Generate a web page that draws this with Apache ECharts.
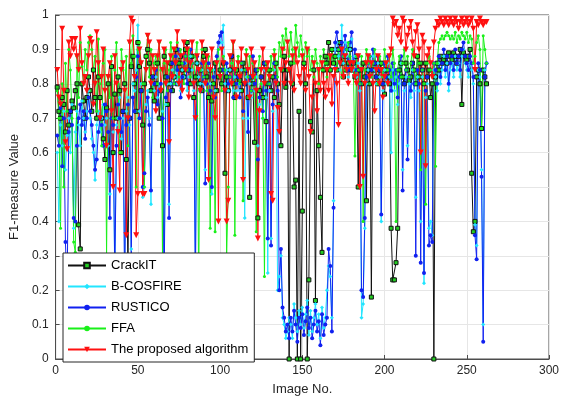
<!DOCTYPE html>
<html>
<head>
<meta charset="utf-8">
<script src="https://cdn.jsdelivr.net/npm/echarts@6/dist/echarts.min.js"></script>
<style>
  html, body { margin: 0; padding: 0; background: #fff; }
  #chart { width: 564px; height: 401px; }
</style>
</head>
<body>
<div id="chart"></div>
<script>
// F1-measure per image
const seriesNames = ['CrackIT', 'B-COSFIRE', 'RUSTICO', 'FFA', 'The proposed algorithm']

const crackit = [
  .79,.72,.70,.76,.74,.66,.78,.68,.72,.75, .73,.78,.80,.39,.32,.80,.75,.70,.76,.82,
  .78,.72,.84,.76,.70,.82,.76,.70,.64,.58, .73,.80,.55,.85,.60,.77,.70,.82,.78,.60,
  .72,.80,.58,.28,.70,.85,.88,.80,.72,.92, .85,.78,.68,.80,.88,.90,.86,.78,.82,.75,
  .80,.86,.70,.78,.62,.88,.82,.74,.80,.86, .78,.82,.90,.80,.86,.88,.84,.82,.90,.92,
  .84,.80,.88,.76,.82,.86,.80,.84,.78,.88, .90,.82,.76,.84,.75,.80,.86,.78,.82,.84,
  .80,.86,.54,.82,.78,.84,.88,.80,.76,.84, .82,.81,.78,.86,.80,.84,.76,.47,.82,.80,
  .63,.84,.41,.78,.82,.76,.86,.69,.80,.84, .78,.82,.76,.86,.80,.74,.62,.84,.88,.79,
  .84,.00,.86,.80,.50,.52,.00,.72,.00,.43, .86,.80,.00,.23,.69,.66,.84,.17,.78,.62,
  .47,.31,.84,.88,.86,.92,.84,.90,.86,.88, .84,.90,.92,.86,.82,.88,.84,.86,.90,.84,
  .86,.82,.88,.50,.84,.80,.86,.82,.46,.84, .80,.18,.84,.86,.82,.80,.84,.86,.80,.77,
  .84,.82,.80,.38,.23,.23,.28,.38,.84,.86, .82,.80,.86,.84,.81,.82,.86,.84,.80,.88,
  .82,.86,.84,.80,.86,.82,.84,.76,.80,.00, .82,.86,.84,.88,.86,.87,.88,.86,.89,.88,
  .87,.89,.88,.86,.88,.90,.74,.89,.88,.87, .88,.90,.54,.37,.40,.82,.84,.80,.67,.84,.82,.80
]

const bcosfire = [
  .60,.40,.68,.62,.72,.55,.65,.70,.60,.74, .38,.66,.72,.68,.62,.75,.70,.66,.72,.78,
  .70,.64,.60,.52,.68,.72,.66,.70,.74,.68, .70,.62,.48,.72,.66,.22,.68,.70,.76,.64,
  .70,.25,.72,.76,.68,.32,.80,.78,.84,.97, .72,.80,.47,.50,.74,.78,.70,.45,.80,.78,
  .82,.76,.80,.78,.72,.25,.74,.80,.45,.80, .84,.82,.86,.80,.88,.78,.84,.82,.86,.78,
  .82,.88,.84,.78,.25,.86,.82,.80,.84,.80, .55,.78,.84,.80,.48,.84,.78,.86,.90,.92,
  .92,.97,.80,.84,.78,.84,.86,.78,.82,.78, .80,.78,.84,.70,.41,.82,.70,.80,.76,.86,
  .78,.82,.62,.74,.80,.70,.84,.76,.25,.78, .35,.72,.84,.80,.20,.24,.30,.12,.10,.06,
  .08,.12,.10,.06,.16,.12,.08,.14,.10,.15, .09,.13,.17,.07,.14,.08,.12,.16,.10,.13,
  .06,.15,.09,.12,.20,.27,.24,.12,.46,.90, .92,.88,.84,.97,.86,.92,.88,.82,.90,.93,
  .84,.88,.82,.86,.78,.12,.16,.38,.80,.84, .86,.82,.88,.84,.80,.86,.82,.40,.78,.84,
  .80,.86,.82,.60,.84,.78,.82,.74,.80,.86, .55,.78,.82,.62,.80,.76,.84,.78,.47,.82,
  .78,.40,.82,.22,.76,.80,.38,.40,.36,.84, .82,.78,.86,.80,.84,.88,.82,.86,.78,.84,
  .86,.82,.88,.84,.86,.82,.88,.90,.86,.84, .82,.86,.84,.80,.39,.33,.84,.82,.55,.10,.84,.86
]

const rustico = [
  .65,.62,.73,.56,.70,.34,.20,.66,.72,.68, .41,.40,.62,.70,.74,.68,.72,.64,.70,.76,
  .72,.68,.62,.55,.58,.66,.70,.68,.62,.74, .72,.66,.41,.70,.68,.25,.62,.74,.70,.66,
  .72,.20,.68,.74,.70,.30,.76,.72,.82,.88, .70,.78,.50,.54,.72,.76,.68,.49,.82,.80,
  .84,.74,.78,.80,.70,.20,.76,.82,.41,.78, .86,.80,.88,.84,.90,.76,.82,.86,.88,.80,
  .84,.90,.86,.80,.20,.88,.84,.78,.86,.82, .51,.80,.86,.78,.50,.82,.76,.88,.92,.94,
  .95,.84,.78,.86,.80,.82,.88,.76,.84,.80, .82,.76,.86,.72,.80,.84,.66,.82,.78,.88,
  .80,.84,.58,.76,.82,.72,.86,.78,.35,.80, .33,.74,.86,.82,.78,.20,.32,.15,.12,.08,
  .10,.06,.12,.08,.14,.10,.05,.12,.09,.13, .07,.11,.15,.09,.12,.06,.10,.14,.08,.11,
  .04,.13,.07,.10,.12,.32,.27,.08,.44,.92, .95,.90,.86,.92,.88,.94,.90,.84,.92,.95,
  .86,.90,.84,.88,.80,.20,.18,.41,.82,.86, .88,.84,.90,.86,.82,.88,.84,.42,.80,.86,
  .82,.88,.84,.78,.86,.80,.84,.76,.82,.88, .49,.80,.84,.58,.82,.78,.86,.80,.30,.84,
  .80,.28,.84,.25,.78,.82,.33,.36,.34,.86, .84,.80,.88,.82,.86,.90,.84,.88,.80,.86,
  .88,.84,.90,.86,.88,.84,.90,.92,.88,.86, .84,.88,.86,.82,.36,.29,.86,.84,.53,.05,.82,.86
]

const ffa = [
  .78,.70,.38,.80,.50,.86,.72,.90,.84,.70, .34,.31,.88,.76,.92,.85,.80,.90,.84,.92,
  .94,.90,.84,.88,.72,.93,.80,.62,.86,.90, .30,.82,.76,.88,.70,.84,.92,.80,.60,.90,
  .84,.78,.88,.62,.92,.86,.94,.88,.50,.90, .92,.86,.80,.50,.88,.94,.82,.90,.76,.86,
  .88,.80,.92,.84,.30,.86,.90,.78,.84,.92, .88,.80,.86,.92,.82,.90,.86,.80,.88,.84,
  .90,.82,.86,.80,.88,.92,.20,.84,.90,.82, .86,.78,.88,.38,.84,.80,.37,.86,.90,.82,
  .78,.88,.84,.30,.50,.82,.86,.92,.36,.84, .88,.80,.86,.46,.84,.90,.82,.88,.78,.86,
  .82,.37,.84,.88,.80,.70,.24,.86,.84,.80, .88,.84,.90,.86,.82,.92,.88,.94,.90,.96,
  .92,.88,.95,.90,.86,.97,.92,.88,.94,.90, .86,.92,.88,.90,.84,.88,.82,.90,.86,.80,
  .88,.84,.90,.86,.82,.88,.84,.90,.86,.88, .84,.90,.86,.82,.88,.84,.90,.92,.88,.84,
  .86,.59,.88,.84,.80,.88,.40,.84,.90,.86, .88,.82,.86,.90,.84,.80,.88,.86,.82,.90,
  .86,.84,.88,.82,.90,.86,.40,.84,.88,.82, .86,.90,.84,.88,.82,.86,.90,.84,.80,.88,
  .86,.55,.84,.80,.45,.86,.88,.84,.82,.86, .56,.86,.92,.93,.94,.93,.94,.95,.94,.93,
  .94,.93,.95,.92,.94,.93,.95,.94,.93,.95, .92,.94,.93,.86,.88,.92,.94,.90,.67,.94,.90,.86
]

const proposed = [
  .84,.76,.74,.96,.78,.63,.61,.92,.88,.93, .90,.93,.88,.84,.96,.86,.80,.82,.78,.88,
  .93,.92,.74,.80,.95,.86,.70,.82,.90,.78, .62,.82,.86,.72,.50,.88,.80,.66,.49,.84,
  .86,.78,.36,.70,.92,.99,.98,.82,.36,.48, .90,.86,.48,.48,.84,.94,.92,.80,.88,.84,
  .72,.88,.92,.78,.84,.90,.80,.86,.63,.88, .82,.90,.86,.95,.80,.88,.78,.92,.84,.90,
  .76,.86,.92,.80,.70,.88,.84,.78,.92,.86, .80,.88,.52,.84,.90,.76,.70,.86,.40,.82,
  .90,.86,.78,.40,.46,.88,.80,.92,.84,.76, .86,.82,.90,.52,.80,.88,.84,.76,.90,.82,
  .86,.78,.35,.72,.84,.90,.80,.84,.86,.82, .48,.46,.88,.80,.73,.66,.84,.90,.80,.86,
  .92,.84,.80,.88,.78,.90,.86,.82,.80,.88, .84,.78,.90,.82,.66,.76,.86,.80,.72,.84,
  .78,.86,.80,.76,.84,.78,.88,.74,.82,.84, .80,.68,.86,.90,.82,.88,.84,.80,.86,.84,
  .86,.82,.80,.88,.50,.84,.53,.80,.86,.88, .82,.86,.80,.72,.84,.88,.80,.84,.76,.82,
  .86,.80,.88,.90,.99,.97,.98,.94,.96,.92, .99,.98,.90,.94,.96,.98,.92,.88,.95,.97,
  .90,.60,.94,.92,.56,.88,.90,.86,.82,.92, .96,.98,.97,.99,.98,.97,.99,.98,.97,.99,
  .98,.97,.99,.98,.96,.98,.99,.97,.98,.99, .97,.98,.99,.96,.84,.98,.97,.99,.98,.97,.98,.98
]

const xTicks = [0, 50, 100, 150, 200, 250, 300]
const yTicks = [0, 0.1, 0.2, 0.3, 0.4, 0.5, 0.6, 0.7, 0.8, 0.9, 1]

const styles = [
  { line: '#111111', symbol: 'rect', size: 4, fill: '#22cc22', border: '#111111' },
  { line: '#22e5ff', symbol: 'diamond', size: 4, fill: '#22e5ff', border: '#22e5ff' },
  { line: '#1020f0', symbol: 'circle', size: 4, fill: '#1020f0', border: '#1020f0' },
  { line: '#19f019', symbol: 'circle', size: 3, fill: '#19f019', border: '#19f019' },
  { line: '#ff1010', symbol: 'triangle', size: 6, fill: '#ff1010', border: '#ff1010', rotate: 180 }
]

const allData = [crackit, bcosfire, rustico, ffa, proposed]

let myChart = echarts.init(document.getElementById('chart'))

myChart.setOption({
  animation: false,
  textStyle: { fontFamily: 'Liberation Sans, Arial, sans-serif' },
  grid: {
    left: 53, right: 15, top: 15, bottom: 39,
    show: true, borderColor: '#4d4d4d', borderWidth: 1
  },
  legend: {
    orient: 'vertical',
    left: 63, top: 253,
    padding: [5, 6, 5, 4],
    itemWidth: 38, itemHeight: 7, itemGap: 6,
    backgroundColor: '#fff',
    borderColor: '#262626', borderWidth: 1,
    selectedMode: false,
    textStyle: { fontSize: 13, color: '#000', lineHeight: 15, fontFamily: 'Liberation Sans, Arial, sans-serif' },
    data: seriesNames
  },
  xAxis: {
    type: 'value', min: 0, max: 300, interval: 50,
    name: 'Image No.', nameLocation: 'middle', nameGap: 24,
    nameTextStyle: { fontSize: 13, color: '#262626' },
    axisLine: { show: true, lineStyle: { color: '#4d4d4d' } },
    axisTick: { show: true, inside: true, length: 4, lineStyle: { color: '#4d4d4d' } },
    axisLabel: { fontSize: 12, color: '#262626', margin: 6,
      formatter: v => xTicks.includes(v) ? String(v) : '' },
    splitLine: { show: true, lineStyle: { color: '#e6e6e6' } }
  },
  yAxis: {
    type: 'value', min: 0, max: 1, interval: 0.1,
    name: 'F1-measure Value', nameLocation: 'middle', nameGap: 30,
    nameTextStyle: { fontSize: 13, color: '#262626' },
    axisLine: { show: true, lineStyle: { color: '#4d4d4d' } },
    axisTick: { show: true, inside: true, length: 4, lineStyle: { color: '#4d4d4d' } },
    axisLabel: { fontSize: 12, color: '#262626', margin: 7,
      formatter: v => {
        const t = yTicks.find(y => Math.abs(y - v) < 1e-6)
        return t === undefined ? '' : String(t)
      } },
    splitLine: { show: true, lineStyle: { color: '#e6e6e6' } }
  },
  series: allData.map((vals, k) => ({
    name: seriesNames[k],
    type: 'line',
    data: vals.map((v, i) => [i + 1, v]),
    symbol: styles[k].symbol,
    symbolSize: styles[k].size,
    symbolRotate: styles[k].rotate || 0,
    showAllSymbol: true,
    clip: true,
    lineStyle: { color: styles[k].line, width: 1 },
    itemStyle: { color: styles[k].fill, borderColor: styles[k].border, borderWidth: k === 0 ? 1 : 0 },
    emphasis: { disabled: true }
  }))
})
</script>
</body>
</html>
